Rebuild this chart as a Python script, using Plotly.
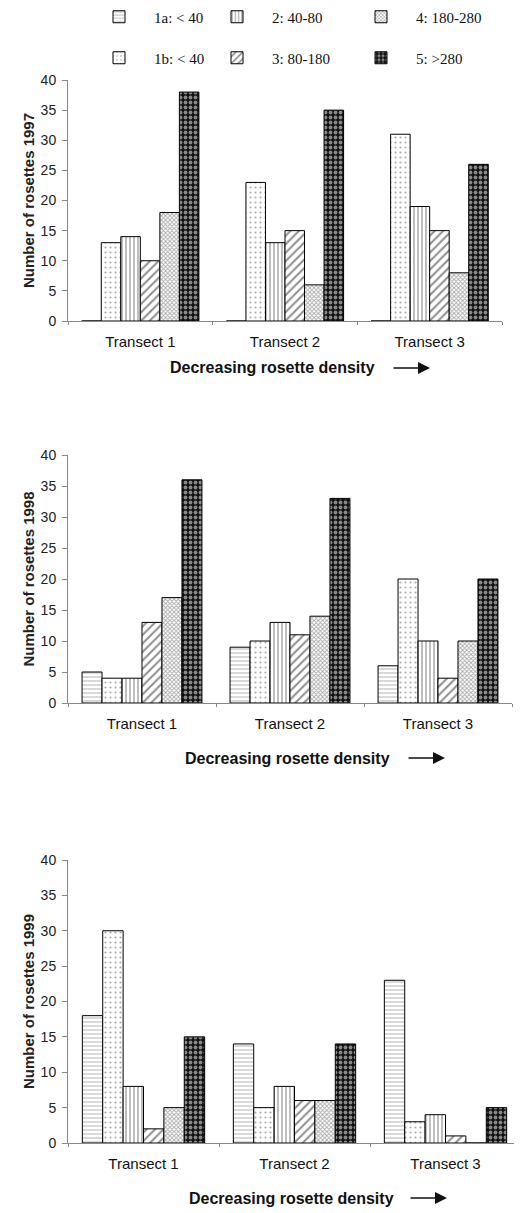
import plotly.graph_objects as go

categories = ["Transect 1", "Transect 2", "Transect 3"]
classes = ["1a: < 40", "1b: < 40", "2: 40-80", "3: 80-180", "4: 180-280", "5: >280"]

vals_1997 = {
    "1a: < 40": [0, 0, 0],
    "1b: < 40": [13, 23, 31],
    "2: 40-80": [14, 13, 19],
    "3: 80-180": [10, 15, 15],
    "4: 180-280": [18, 6, 8],
    "5: >280": [38, 35, 26],
}
vals_1998 = {
    "1a: < 40": [5, 9, 6],
    "1b: < 40": [4, 10, 20],
    "2: 40-80": [4, 13, 10],
    "3: 80-180": [13, 11, 4],
    "4: 180-280": [17, 14, 10],
    "5: >280": [36, 33, 20],
}
vals_1999 = {
    "1a: < 40": [18, 14, 23],
    "1b: < 40": [30, 5, 3],
    "2: 40-80": [8, 8, 4],
    "3: 80-180": [2, 6, 1],
    "4: 180-280": [5, 6, 0],
    "5: >280": [15, 14, 5],
}
years = ["1997", "1998", "1999"]
y_titles = ["Number of rosettes 1997", "Number of rosettes 1998", "Number of rosettes 1999"]
x_title = "Decreasing rosette density"

patterns = {
    "1a: < 40": dict(shape="-", size=4, solidity=0.25, fgcolor="#666", bgcolor="white"),
    "1b: < 40": dict(shape=".", size=5, solidity=0.15, fgcolor="#555", bgcolor="white"),
    "2: 40-80": dict(shape="|", size=4, solidity=0.3, fgcolor="#222", bgcolor="white"),
    "3: 80-180": dict(shape="/", size=6, solidity=0.35, fgcolor="#222", bgcolor="white"),
    "4: 180-280": dict(shape="x", size=3, solidity=0.5, fgcolor="#555", bgcolor="white"),
    "5: >280": dict(shape=".", size=5, solidity=0.45, fgcolor="white", bgcolor="#111"),
}

W, H = 522, 1213
OFF = 8  # page body margin offset
# panel pixel geometry on screen: (top px of 40, bottom px of 0, left px, right px)
panels = [(80, 321, 68, 502), (455, 703, 68, 512), (860, 1143, 68, 521)]
xtitle_pos = [(272, 368, 430), (287, 758, 445), (291, 1198, 447)]

fig = go.Figure()
all_vals = [vals_1997, vals_1998, vals_1999]

# legend placement on screen (row centre px, legend left px)
legend_pos = {
    "1a: < 40": (17, 84), "2: 40-80": (17, 202), "4: 180-280": (17, 346),
    "1b: < 40": (58, 84), "3: 80-180": (58, 202), "5: >280": (58, 346),
}
legend_names = {}
for i, c in enumerate(classes):
    legend_names[c] = "legend" if i == 0 else f"legend{i+1}"

for p, vals in enumerate(all_vals):
    xa = "x" if p == 0 else f"x{p+1}"
    ya = "y" if p == 0 else f"y{p+1}"
    for c in classes:
        fig.add_trace(go.Bar(
            x=categories, y=vals[c], name=c,
            xaxis=xa, yaxis=ya,
            marker=dict(color="white", line=dict(color="black", width=1),
                        pattern=patterns[c]),
            showlegend=(p == 0),
            legend=legend_names[c],
        ))

layout = dict(
    width=W, height=H,
    margin=dict(l=0, r=0, t=0, b=0, autoexpand=False),
    paper_bgcolor="white", plot_bgcolor="white",
    barmode="group", bargap=0.19, bargroupgap=0,
    font=dict(family="Liberation Sans", size=13, color="#222"),
    annotations=[],
)


def fx(px):
    return (px - OFF) / W


def fy(py):
    return 1 - (py - OFF) / H


for p in range(3):
    top, bot, left, right = panels[p]
    suffix = "" if p == 0 else str(p + 1)
    layout["xaxis" + suffix] = dict(
        domain=[fx(left), min(fx(right), 1.0)], anchor="y" + suffix,
        showline=True, linecolor="#888", linewidth=1,
        ticks="outside", tickson="boundaries", ticklen=3, tickcolor="#888",
        tickfont=dict(size=15, color="#111"), ticklabelstandoff=7,
        showgrid=False, zeroline=False,
    )
    layout["yaxis" + suffix] = dict(
        domain=[fy(bot), fy(top)], anchor="x" + suffix,
        range=[0, 40], dtick=5,
        showline=True, linecolor="#888", linewidth=1,
        ticks="outside", ticklen=5, tickcolor="#888",
        tickfont=dict(size=14, color="#222"), ticklabelstandoff=3,
        showgrid=False, zeroline=False,
        title=dict(text="<b>" + y_titles[p] + "</b>", font=dict(size=15, color="#222"), standoff=2),
    )
    cx, cy, ax_end = xtitle_pos[p]
    layout["annotations"].append(dict(
        text="<b>" + x_title + "</b>", xref="paper", yref="paper",
        x=fx(cx), y=fy(cy), showarrow=False,
        font=dict(size=16, color="#111"), xanchor="center", yanchor="middle",
    ))
    layout["annotations"].append(dict(
        text="", xref="paper", yref="paper",
        x=fx(ax_end), y=fy(cy), ax=-38, ay=0,
        showarrow=True, arrowhead=2, arrowsize=1.6, arrowwidth=1.5, arrowcolor="#111",
    ))

for c in classes:
    rowy, xleft = legend_pos[c]
    layout[legend_names[c]] = dict(
        x=fx(xleft), y=fy(rowy), xanchor="left", yanchor="middle",
        orientation="h", bgcolor="rgba(0,0,0,0)",
        font=dict(family="Liberation Serif", size=15, color="#111"),
        itemwidth=60,
    )

fig.update_layout(**layout)
fig.write_html("out.html")
